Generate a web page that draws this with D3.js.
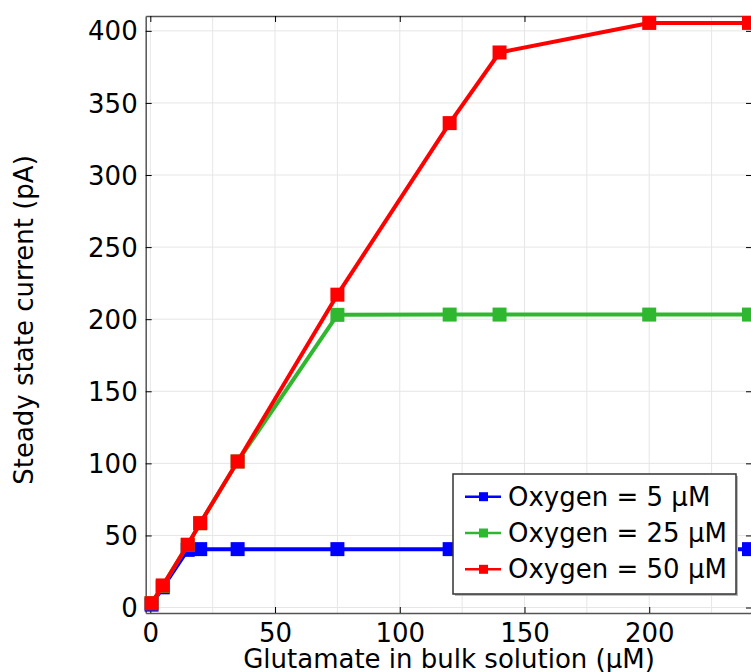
<!DOCTYPE html>
<html>
<head>
<meta charset="utf-8">
<script src="https://cdn.jsdelivr.net/npm/d3@7"></script>
<style>
  body { margin: 0; background: #fff; }
  text { font-family: "DejaVu Sans", sans-serif; fill: #000; }
</style>
</head>
<body>
<svg id="chart" width="751" height="672"></svg>
<script>
// glutamate concentration (uM)
var conc = [0.5, 5, 15, 20, 35, 75, 120, 140, 200, 240];
// steady state current (pA) per oxygen level
var oxy5  = [2, 14, 40, 40.5, 40.5, 40.5, 40.5, 40.5, 40.5, 40.5];
var oxy25 = [3, 15, 43.5, 58.5, 101.3, 203, 203.2, 203.2, 203.2, 203.2];
var oxy50 = [3, 15.3, 43.5, 58.5, 101.3, 217, 336, 385, 405.5, 405.5];
var names = ["Oxygen = 5 \u03bcM", "Oxygen = 25 \u03bcM", "Oxygen = 50 \u03bcM"];
var colors = ["#0000ff", "#2fb82f", "#ff0000"];
var xTicks = [0, 50, 100, 150, 200];
var yTicks = [0, 50, 100, 150, 200, 250, 300, 350, 400];

var series = [oxy5, oxy25, oxy50];

var p_left = 145.7, p_right = 752, p_top = 16, p_bottom = 613;
var fs = 26;

var svg = d3.select("#chart");

var x = d3.scaleLinear().domain([-1.85, 241.2]).range([p_left, p_right]);
var y = d3.scaleLinear().domain([-3.8, 410.3]).range([p_bottom, p_top]);

/* grid */
var grid = svg.append("g");
d3.range(0, 241, 25).forEach(function(v){
	grid.append("line")
		.attr("x1", x(v)).attr("x2", x(v))
		.attr("y1", p_top).attr("y2", p_bottom)
		.attr("stroke", "#e6e6e6").attr("stroke-width", 1);
});
yTicks.forEach(function(v){
	grid.append("line")
		.attr("x1", p_left).attr("x2", p_right)
		.attr("y1", y(v)).attr("y2", y(v))
		.attr("stroke", "#e6e6e6").attr("stroke-width", 1);
});

/* axes: ticks pointing inwards */
var xb = svg.append("g").attr("transform", "translate(0," + p_bottom + ")")
	.call(d3.axisBottom(x).tickValues(xTicks).tickSizeInner(-6).tickSizeOuter(0));
var xt = svg.append("g").attr("transform", "translate(0," + p_top + ")")
	.call(d3.axisTop(x).tickValues(xTicks).tickSizeInner(-6).tickSizeOuter(0).tickFormat(""));
var yl = svg.append("g").attr("transform", "translate(" + p_left + ",0)")
	.call(d3.axisLeft(y).tickValues(yTicks).tickSizeInner(-6).tickSizeOuter(0));
var yr = svg.append("g").attr("transform", "translate(" + p_right + ",0)")
	.call(d3.axisRight(y).tickValues(yTicks).tickSizeInner(-6).tickSizeOuter(0).tickFormat(""));

[xb, xt, yl, yr].forEach(function(g){
	g.select(".domain").attr("stroke", "#555").attr("stroke-width", 1.5);
	g.selectAll(".tick line").attr("stroke", "#000").attr("stroke-width", 1);
	g.selectAll(".tick text").attr("font-size", fs).attr("font-family", "DejaVu Sans").attr("fill", "#000");
});
xb.selectAll(".tick text").attr("y", 11).attr("dy", "0.71em");
yl.selectAll(".tick text").attr("x", -8).attr("dy", "0.35em");

/* data */
var line = d3.line()
	.x(function(d, i){ return x(conc[i]); })
	.y(function(d){ return y(d); });

series.forEach(function(s, k){
	var g = svg.append("g");
	g.append("path")
		.attr("d", line(s))
		.attr("fill", "none")
		.attr("stroke", colors[k])
		.attr("stroke-width", 4)
		.attr("stroke-linejoin", "round");
	g.selectAll("rect").data(s).enter().append("rect")
		.attr("x", function(d, i){ return x(conc[i]) - 7; })
		.attr("y", function(d){ return y(d) - 7; })
		.attr("width", 14).attr("height", 14)
		.attr("fill", colors[k]);
});

/* labels */
svg.append("text")
	.attr("x", 449).attr("y", 668)
	.attr("text-anchor", "middle")
	.attr("font-size", fs)
	.text("Glutamate in bulk solution (\u03bcM)");
svg.append("text")
	.attr("transform", "translate(33,320) rotate(-90)")
	.attr("text-anchor", "middle")
	.attr("font-size", fs)
	.text("Steady state current (pA)");

/* legend */
var lg = svg.append("g").attr("transform", "translate(453,474)");
lg.append("rect").attr("x", 2).attr("y", 2).attr("width", 283).attr("height", 120).attr("fill", "#bbb");
lg.append("rect").attr("width", 283).attr("height", 120)
	.attr("fill", "#fff").attr("stroke", "#333").attr("stroke-width", 1.5);
names.forEach(function(n, k){
	var cy = 22.7 + k*36.3;
	lg.append("line").attr("x1", 12).attr("x2", 48).attr("y1", cy).attr("y2", cy)
		.attr("stroke", colors[k]).attr("stroke-width", 2.5);
	lg.append("rect").attr("x", 26).attr("y", cy - 4.5).attr("width", 9).attr("height", 9)
		.attr("fill", colors[k]);
	lg.append("text").attr("x", 55).attr("y", cy).attr("dy", "0.35em")
		.attr("font-size", fs).text(n);
});
</script>
</body>
</html>
